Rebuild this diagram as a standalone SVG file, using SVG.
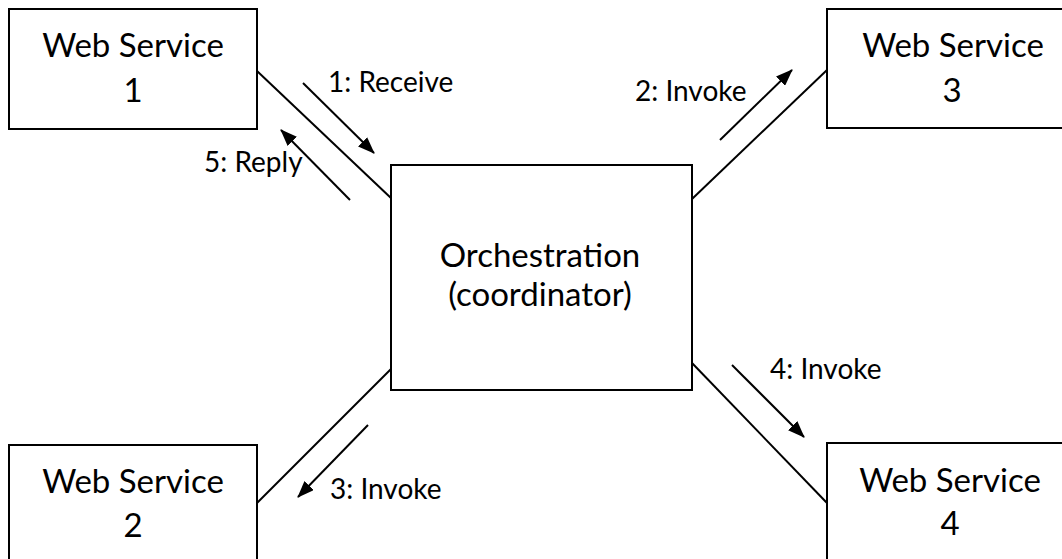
<svg xmlns="http://www.w3.org/2000/svg" width="1062" height="559" viewBox="0 0 1062 559">
<style>
.box{fill:#fff;stroke:#000;stroke-width:2}
.t{font-family:Lato,"Liberation Sans",sans-serif;font-size:33px;fill:#000;text-anchor:middle}
.l{font-family:Lato,"Liberation Sans",sans-serif;font-size:28px;fill:#000}
.c{stroke:#000;stroke-width:2;fill:none}
</style>
<defs>
<marker id="ah" markerWidth="17" markerHeight="13" refX="16" refY="6.5" orient="auto" markerUnits="userSpaceOnUse" viewBox="0 0 17 13">
<path d="M0,0 L17,6.5 L0,13 Z" fill="#000"/>
</marker>
</defs>
<rect width="1062" height="559" fill="#fff"/>
<g id="connectors">
<line class="c" x1="257" y1="71" x2="392" y2="199"/>
<line class="c" x1="692" y1="199" x2="827" y2="70"/>
<line class="c" x1="392" y1="368" x2="257" y2="503"/>
<line class="c" x1="692" y1="363" x2="827" y2="503"/>
<line class="c" x1="303" y1="83" x2="374" y2="153" marker-end="url(#ah)"/>
<line class="c" x1="350" y1="200" x2="281" y2="130" marker-end="url(#ah)"/>
<line class="c" x1="720" y1="140" x2="792" y2="70" marker-end="url(#ah)"/>
<line class="c" x1="368" y1="425" x2="298" y2="497" marker-end="url(#ah)"/>
<line class="c" x1="732" y1="365" x2="804" y2="437" marker-end="url(#ah)"/>
<text class="l" x="328" y="92">1: Receive</text>
<text class="l" x="204" y="172">5: Reply</text>
<text class="l" x="635" y="101">2: Invoke</text>
<text class="l" x="330" y="499">3: Invoke</text>
<text class="l" x="770" y="379">4: Invoke</text>
</g>
<g id="ws1">
<rect class="box" x="9" y="9" width="248" height="120"/>
<text class="t" x="133" y="57">Web Service</text>
<text class="t" x="133" y="102">1</text>
</g>
<g id="ws3">
<rect class="box" x="827" y="9" width="240" height="119"/>
<text class="t" x="953" y="57">Web Service</text>
<text class="t" x="952" y="102">3</text>
</g>
<g id="orch">
<rect class="box" x="391" y="165" width="301" height="225"/>
<text class="t" x="540" y="267">Orchestration</text>
<text class="t" x="540" y="306">(coordinator)</text>
</g>
<g id="ws2">
<rect class="box" x="9" y="445" width="248" height="120"/>
<text class="t" x="133" y="493">Web Service</text>
<text class="t" x="133" y="537">2</text>
</g>
<g id="ws4">
<rect class="box" x="827" y="443" width="240" height="120"/>
<text class="t" x="950" y="492">Web Service</text>
<text class="t" x="950" y="535">4</text>
</g>
</svg>
